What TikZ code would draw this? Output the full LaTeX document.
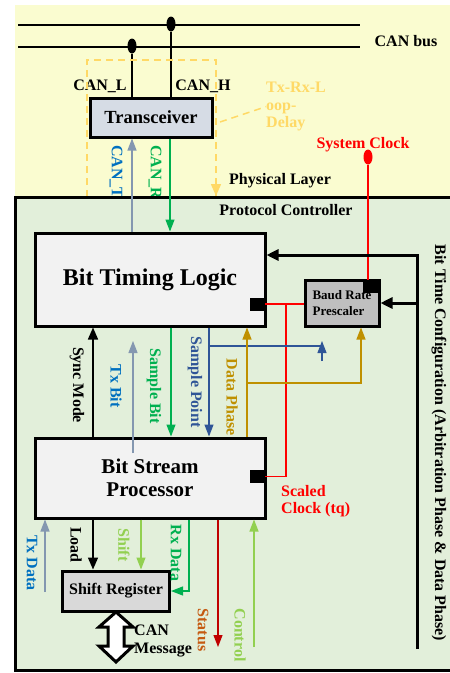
\documentclass[tikz,border=0pt]{standalone}
\usepackage{fontspec}
\setmainfont{Liberation Serif}
\usepackage{xcolor}
\usetikzlibrary{arrows.meta}
\usetikzlibrary{shapes.geometric}

\definecolor{yelbg}{RGB}{250,252,208}
\definecolor{grnbg}{RGB}{226,239,218}
\definecolor{trxgray}{RGB}{214,220,229}
\definecolor{btlgray}{RGB}{242,242,242}
\definecolor{brpgray}{RGB}{191,191,191}
\definecolor{srgray}{RGB}{217,217,217}
\definecolor{loopor}{RGB}{255,217,102}
\definecolor{txline}{RGB}{132,151,176}
\definecolor{txtext}{RGB}{0,112,192}
\definecolor{rxgreen}{RGB}{0,176,80}
\definecolor{spblue}{RGB}{47,85,151}
\definecolor{dpgold}{RGB}{191,144,0}
\definecolor{ltgreen}{RGB}{146,208,80}
\definecolor{stred}{RGB}{192,0,0}
\definecolor{sttext}{RGB}{197,90,17}

\begin{document}
\begin{tikzpicture}[x=1pt,y=-1pt,
	box/.style={draw,line width=3pt,inner sep=0pt,font=\bfseries},
	port/.style={fill=black,inner sep=0pt,minimum width=15pt,minimum height=13pt},
	lab/.style={font=\fontsize{16}{17.5}\selectfont\bfseries,inner sep=0pt},
	vlab/.style={lab,rotate=-90},
	sig/.style={line width=1.2pt,-{Triangle[length=12pt,width=9pt]}},
	blksig/.style={line width=1.5pt,-{Triangle[length=12pt,width=10pt]}},
	cfg/.style={line width=3pt,-{Triangle[length=12pt,width=11pt]}},
	tap/.style={ellipse,inner sep=0pt,minimum width=9pt,minimum height=15pt}]
\useasboundingbox (0,0) rectangle (450,673);

% physical layer
\fill[yelbg] (15,5) rectangle (450,197);
\coordinate (busHa) at (18,25);
\coordinate (busHb) at (360,25);
\coordinate (busLa) at (18,47);
\coordinate (busLb) at (360,47);
\draw[line width=1.5pt] (busHa) -- (busHb);
\draw[line width=1.5pt] (busLa) -- (busLb);
\node[lab] (bus) at (406,41) {CAN bus};
\node[tap,fill=black] (dH) at (171,24) {};
\node[tap,fill=black] (dL) at (132,46) {};

\node[box,fill=trxgray,minimum width=122pt,minimum height=39pt,
	font=\fontsize{18.5}{20}\selectfont\bfseries] (trx) at (151,117.5) {Transceiver};
\node[lab] (canl) at (100,86) {CAN\_L};
\node[lab] (canh) at (203,86) {CAN\_H};
\draw[line width=1.2pt] (dL) -- (trx.north -| dL);
\draw[line width=1.2pt] (dH) -- (trx.north -| dH);

% loop delay
\coordinate (lpa) at (87,197);
\coordinate (lpb) at (87,60);
\coordinate (lpc) at (216,60);
\coordinate (lpd) at (216,196);
\draw[loopor,line width=1.5pt,dash pattern=on 7pt off 5pt] (lpa) -- (lpb) -- (lpc) -- (lpd);
\draw[loopor,line width=1.5pt,-{Triangle[length=12pt,width=10pt]}] (216,180) -- (lpd);
\node[lab,text=loopor,align=left,anchor=north west] (delay) at (266,82) {Tx-Rx-L\\oop-\\Delay};
\draw[loopor,line width=1.5pt,dash pattern=on 7pt off 5pt] (220,122) -- (delay.west);

\node[vlab,text=txtext,anchor=west] (cantx) at (116,145) {CAN\_Tx};
\node[vlab,text=rxgreen,anchor=west] (canrx) at (155,145) {CAN\_Rx};
\node[lab] (phy) at (280,181) {Physical Layer};
\node[lab,text=red] (sysclk) at (363,145) {System Clock};
\node[tap,fill=red] (clk) at (368,157) {};

% protocol controller
\fill[grnbg] (15,197) rectangle (450,670);
\draw[line width=3pt] (450,197) -- (15,197) -- (15,670) -- (450,670);
\node[lab] (pc) at (286,210) {Protocol Controller};

\node[box,fill=btlgray,minimum width=230pt,minimum height=93pt,
	font=\fontsize{24}{26}\selectfont\bfseries] (btl) at (150,279.5) {Bit Timing Logic};
\node[box,fill=brpgray,minimum width=74pt,minimum height=46pt,align=left,
	font=\fontsize{13}{15.5}\selectfont\bfseries] (brp) at (342,303) {Baud Rate\\Prescaler};
\node[box,fill=btlgray,minimum width=230pt,minimum height=80pt,align=center,
	font=\fontsize{21}{23}\selectfont\bfseries] (bsp) at (150,478) {Bit Stream\\Processor};
\node[box,fill=srgray,minimum width=107pt,minimum height=40pt,
	font=\fontsize{16}{18}\selectfont\bfseries] (sr) at (116,591) {Shift Register};
\node[port] (btlck) at (257.5,304) {};
\node[port] (brpck) at (370.5,286.5) {};
\node[port] (bspck) at (257.5,476.5) {};

% transceiver <-> bit timing
\draw[sig,txline] (btl.north -| 132,0) -- (trx.south -| 132,0);
\draw[sig,rxgreen] (trx.south -| 170,0) -- (btl.north -| 170,0);

% clocks
\coordinate (scx) at (286,0);
\draw[red,line width=1.2pt] (clk) -- (brpck.north -| clk);
\draw[red,line width=1.2pt] (btlck.east) -- (btlck.east -| brp.west);
\draw[red,line width=1.2pt] (btlck -| scx) |- (bspck.east);
\node[lab,text=red,align=left,anchor=north west] (scl) at (281,485) {Scaled\\Clock (tq)};

% bit time configuration
\coordinate (cfgtop) at (417,255);
\coordinate (cfgbot) at (417,649);
\draw[cfg] (cfgbot) -- (cfgtop) -- (cfgtop -| btl.east);
\draw[cfg] (cfgtop |- brp) -- (brp.east);
\node[vlab] (cfgl) at (439,443) {Bit Time Configuration (Arbitration Phase \& Data Phase)};

% bit timing <-> bit stream
\coordinate (txb) at (133,453);
\coordinate (spb) at (322,361);
\coordinate (dpb) at (247,383);
\draw[blksig] (bsp.north -| 93,0) -- (btl.south -| 93,0);
\draw[sig,txline] (txb) -- (133,341);
\draw[sig,rxgreen] (btl.south -| 171,0) -- (bsp.north -| 171,0);
\draw[sig,spblue] (btl.south -| 209,0) -- (bsp.north -| 209,0);
\draw[spblue,line width=1.2pt] (209,346) -- (322,346);
\draw[sig,spblue] (spb) -- (322,341);
\draw[sig,dpgold] (bsp.north -| dpb) -- (btl.south -| dpb);
\draw[sig,dpgold] (dpb) -| (brp.south -| 361,0);
\node[vlab] (sync) at (77,385) {Sync Mode};
\node[vlab,text=txtext] (txbl) at (116,386) {Tx Bit};
\node[vlab,text=rxgreen] (sbl) at (154,386) {Sample Bit};
\node[vlab,text=spblue] (spl) at (195,382) {Sample Point};
\node[vlab,text=dpgold] (dpl) at (232,397) {Data Phase};

% bit stream <-> shift register
\coordinate (txd) at (45,592);
\coordinate (stat) at (218,647);
\coordinate (ctrl) at (254,647);
\draw[sig,txline] (txd) -- (bsp.south -| txd);
\draw[blksig] (bsp.south -| 93,0) -- (sr.north -| 93,0);
\draw[sig,ltgreen] (bsp.south -| 141,0) -- (sr.north -| 141,0);
\draw[sig,rxgreen] (bsp.south -| 189,0) |- (sr.east);
\draw[sig,stred] (bsp.south -| stat) -- (stat);
\draw[sig,ltgreen] (ctrl) -- (bsp.south -| ctrl);
\node[vlab,text=txtext] (txdl) at (32,563) {Tx Data};
\node[vlab] (load) at (76,545) {Load};
\node[vlab,text=ltgreen] (shl) at (124,545) {Shift};
\node[vlab,text=rxgreen] (rxl) at (176,553) {Rx Data};
\node[vlab,text=sttext] (stl) at (203,630) {Status};
\node[vlab,text=ltgreen] (ctl) at (240,635) {Control};

% CAN message
\coordinate (msg) at (116,612);
\draw[line width=3pt,fill=white,line join=miter] (msg) -- ++(17,15) -- ++(-9,0) -- ++(0,19)
	-- ++(9,0) -- ++(-17,16) -- ++(-17,-16) -- ++(9,0) -- ++(0,-19) -- ++(-9,0) -- cycle;
\node[lab,align=left,anchor=north west] (msgl) at (134,625) {CAN\\Message};

\end{tikzpicture}
\end{document}
